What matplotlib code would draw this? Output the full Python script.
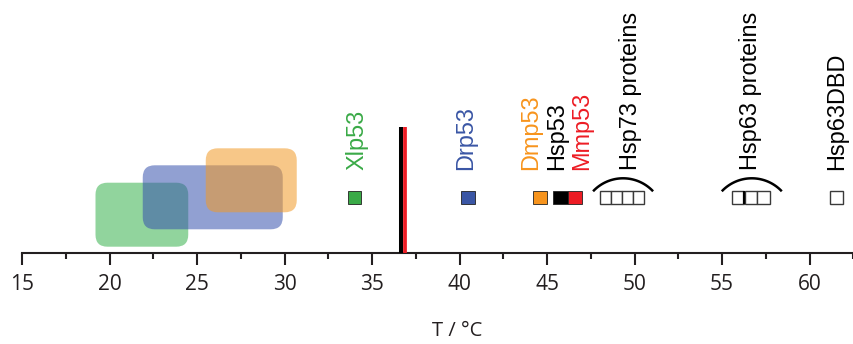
import matplotlib
matplotlib.use("Agg")
import matplotlib.pyplot as plt
from matplotlib.patches import FancyBboxPatch, Rectangle
import matplotlib.transforms as mtransforms
import numpy as np

# Physiological temperature ranges of the organisms (°C)
range_low = [19.2, 21.9, 25.5]
range_high = [24.5, 29.9, 30.7]
range_colors = ["#37b24d", "#3752ad", "#f29a26"]

# Body temperatures (human, mouse)
body_temp_human = 36.65
body_temp_mouse = 36.9

# Melting temperatures of p53 DNA-binding domains (°C)
p53_names = ["Xlp53", "Drp53", "Dmp53", "Hsp53", "Mmp53"]
p53_tm = [34.0, 40.5, 44.6, 45.75, 46.6]
p53_colors = ["#3aaa47", "#3a56a5", "#f7941d", "#000000", "#ed1c24"]

# Melting temperatures of p73 / p63 proteins (°C)
hsp73_tm = [48.35, 48.97, 49.6, 50.23]
hsp63_tm = [55.92, 56.65, 57.37]
hsp63dbd_tm = [61.55]
group_names = ["Hsp73 proteins", "Hsp63 proteins", "Hsp63DBD"]

major_ticks = [15, 20, 25, 30, 35, 40, 45, 50, 55, 60]
minor_ticks = [17.5, 22.5, 27.5, 32.5, 37.5, 42.5, 47.5, 52.5, 57.5, 62.5]

W, H = 854, 344
PX_PER_DEG = 17.5
X0 = 15 - 22 / PX_PER_DEG
X1 = X0 + W / PX_PER_DEG
AXIS_PX = 253.3  # axis line distance from top

fig = plt.figure(figsize=(W / 100, H / 100), dpi=100)
ax = fig.add_axes([0, 0, 1, 1])
ax.set_xlim(X0, X1)
ax.set_ylim(-(H - AXIS_PX), AXIS_PX)  # y in pixels above the axis line

for s in ["top", "left", "right"]:
    ax.spines[s].set_visible(False)
ax.spines["bottom"].set_position(("data", 0))
ax.spines["bottom"].set_bounds(15, X1)
ax.spines["bottom"].set_linewidth(1.5)
ax.spines["bottom"].set_color("#231f20")
ax.set_yticks([])
ax.set_xticks(major_ticks)
ax.set_xticks(minor_ticks, minor=True)
ax.set_xticklabels([str(t) for t in major_ticks], fontfamily="Open Sans",
                   fontsize=15, color="#231f20")
ax.tick_params(axis="x", which="major", direction="out", length=8.6, width=1.5,
               pad=6, color="#231f20")
ax.tick_params(axis="x", which="minor", direction="out", length=4.3, width=1.5,
               color="#231f20")
ax.set_facecolor("white")
fig.text(456.7 / W, 1 - 331 / H, "T / °C", fontfamily="Open Sans", fontsize=14.5,
         color="#231f20", ha="center", va="center")

# Temperature ranges as rounded translucent boxes
box_bottoms = [6.6, 24.0, 41.0]
box_height = 64.0
corner_px = 12.0
for lo, hi, c, yb in zip(range_low, range_high, range_colors, box_bottoms):
    p = FancyBboxPatch((lo, yb), hi - lo, box_height,
                       boxstyle=f"round,pad=0,rounding_size={corner_px / PX_PER_DEG}",
                       mutation_aspect=PX_PER_DEG, facecolor=c, edgecolor="none",
                       alpha=0.55, zorder=2)
    ax.add_patch(p)

# Body temperature lines
line_top = AXIS_PX - 126.7
ax.vlines(body_temp_human, 0, line_top, color="black", lw=2.9, zorder=3)
ax.vlines(body_temp_mouse, 0, line_top, color="#ed1c24", lw=2.7, zorder=3)

# Filled markers for p53 proteins
mark_y = AXIS_PX - 197.0
sq_w = 14.0 / PX_PER_DEG
sq_h = 13.0
hsp53_i = p53_names.index("Hsp53")
for i, (tm, c) in enumerate(zip(p53_tm, p53_colors)):
    x_left = tm - sq_w / 2
    width = sq_w
    if i == hsp53_i:
        # extends up to the neighbouring mouse marker
        width = (p53_tm[i + 1] - sq_w / 2) - x_left
    ax.add_patch(Rectangle((x_left, mark_y - sq_h / 2), width, sq_h,
                           facecolor=c, edgecolor="#222222", lw=0.6, zorder=4))

# Open boxes for p73 / p63 groups
def draw_cells(tms, cell_w):
    for tm in tms:
        ax.add_patch(Rectangle((tm - cell_w / 2, mark_y - sq_h / 2), cell_w, sq_h,
                               facecolor="white", edgecolor="#3a3a3a", lw=1.0, zorder=4))

def cell_width(tms, default):
    return float(np.mean(np.diff(tms))) if len(tms) > 1 else default

draw_cells(hsp73_tm, cell_width(hsp73_tm, sq_w))
draw_cells(hsp63_tm, cell_width(hsp63_tm, sq_w))
draw_cells(hsp63dbd_tm, 13.3 / PX_PER_DEG)

# Darker divider between the first two p63 proteins
w63 = cell_width(hsp63_tm, sq_w)
ax.vlines(hsp63_tm[0] + w63 / 2, mark_y - sq_h / 2, mark_y + sq_h / 2,
          color="black", lw=1.6, zorder=5)

# Bracketing arcs over the grouped proteins
def draw_arc(center_tm):
    half_chord, sag = 30.0, 13.0
    r = (half_chord ** 2 + sag ** 2) / (2 * sag)
    top = AXIS_PX - 178.3
    cy = top - r
    th = np.arcsin(half_chord / r)
    t = np.linspace(-th, th, 60)
    ax.plot(center_tm + r * np.sin(t) / PX_PER_DEG, cy + r * np.cos(t),
            color="black", lw=1.8, solid_capstyle="butt", zorder=4)

draw_arc(np.mean([hsp73_tm[0], hsp73_tm[-1]]) + 1 / PX_PER_DEG)
draw_arc(np.mean([hsp63_tm[0], hsp63_tm[-1]]) + 1 / PX_PER_DEG)

# Rotated labels
label_y = AXIS_PX - 170.0
label_font = dict(fontfamily="Liberation Sans", fontsize=16.9, rotation=90,
                  ha="center", va="bottom", zorder=5)
p53_label_shift = [2, -3, -9, -3, 7]
for name, tm, c, dx in zip(p53_names, p53_tm, p53_colors, p53_label_shift):
    tr = mtransforms.offset_copy(ax.transData, fig=fig, x=dx * 0.72, y=0, units="points")
    ax.text(tm, label_y, name, color=c, transform=tr, **label_font)

group_centers = [np.mean([hsp73_tm[0], hsp73_tm[-1]]),
                 np.mean([hsp63_tm[0], hsp63_tm[-1]]),
                 hsp63dbd_tm[0]]
group_shift = [8, 0, 0]
for name, xc, dx in zip(group_names, group_centers, group_shift):
    tr = mtransforms.offset_copy(ax.transData, fig=fig, x=dx * 0.72, y=0, units="points")
    ax.text(xc, label_y, name, color="black", transform=tr, **label_font)

fig.savefig("out.png", dpi=100, facecolor="white")
